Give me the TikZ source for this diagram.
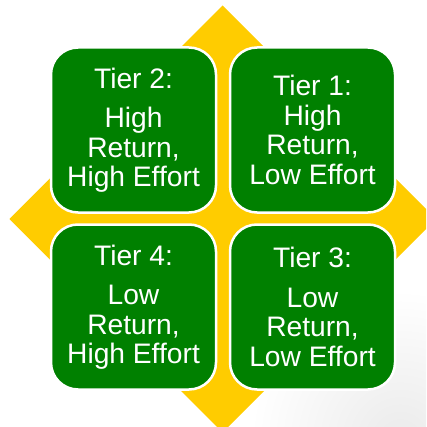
\documentclass[tikz,border=0pt]{standalone}
\usepackage{fontspec}
\setmainfont{Liberation Sans}
\definecolor{tiergreen}{RGB}{0,128,0}
\definecolor{tieryellow}{RGB}{255,204,0}
\begin{document}
\begin{tikzpicture}[x=1pt,y=-1pt,
  tierbox/.style={draw=white, line width=2.5pt, fill=tiergreen, rounded corners=27pt,
    minimum width=165pt, minimum height=165pt, text=white, align=center,
    font=\fontsize{28.2}{29.5}\selectfont, inner sep=0pt}]
\useasboundingbox (0,0) rectangle (426,427);
\clip (0,0) rectangle (426,427);
\fill[white] (0,0) rectangle (426,427);
\shade[inner color=black!8, outer color=white] (400,440) circle (150);
\fill[tieryellow] (222.5,5.5) -- (436,219) -- (222.5,432.5) -- (9.5,219) -- cycle;
\node[tierbox] (t2) at (133.5,130) {Tier 2:\\[10pt]High\\Return,\\High Effort};
\node[tierbox] (t1) at (312.5,130) {Tier 1:\\High\\Return,\\Low Effort};
\node[tierbox] (t4) at (133.5,307) {Tier 4:\\[10pt]Low\\Return,\\High Effort};
\node[tierbox] (t3) at (312.5,307) {Tier 3:\\[10pt]Low\\Return,\\Low Effort};
\end{tikzpicture}
\end{document}
